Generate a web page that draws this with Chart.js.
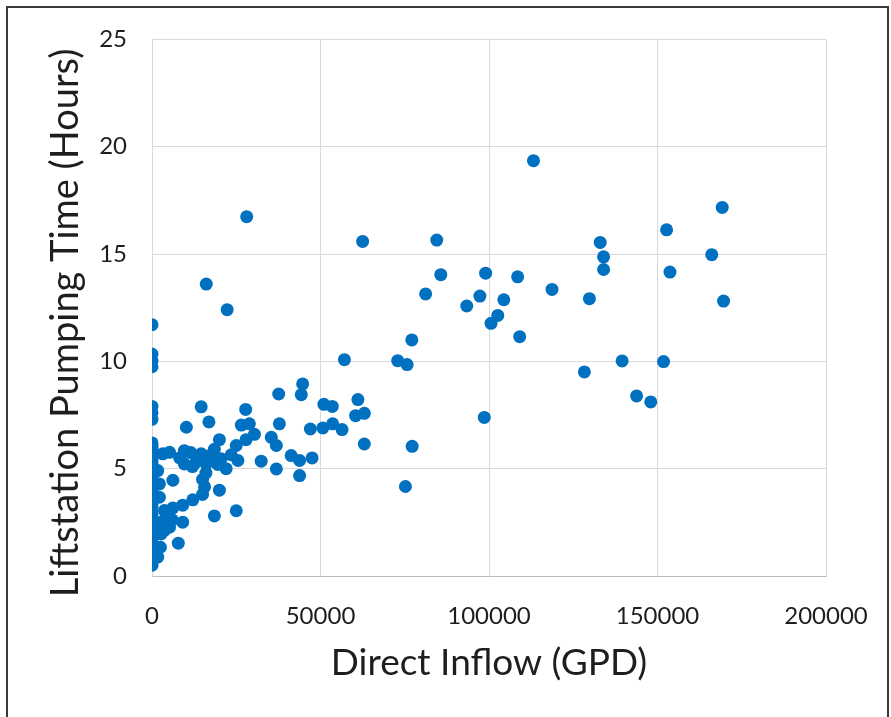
<!DOCTYPE html>
<html>
<head>
<meta charset="utf-8">
<script src="https://cdn.jsdelivr.net/npm/chart.js@4.4.1/dist/chart.umd.min.js"></script>
<style>
  body { margin: 0; background: #fff; }
  canvas { display: block; }
</style>
</head>
<body>
<canvas id="scatter" width="891" height="717"></canvas>
<script>
// Direct inflow (GPD) per liftstation
const inflowGpd = [
  0, 0, 0, 0, 0, 0, 0, 0, 0, 0,
  0, 0, 0, 0, 0, 0, 0, 0, 0, 0,
  0, 0, 0, 0, 0, 0, 0, 0, 0, 0,
  0, 0, 0, 0, 0, 0, 0, 0, 0, 0,
  0, 0, 0, 0, 0, 0,
  1700, 2500, 2700, 2700, 3700, 2200, 2200, 1700, 3200, 3700,
  5200, 5200, 6000, 7800, 9100, 9100, 6200, 12100, 15000, 15600,
  20000, 18500, 25000, 6200, 15000, 16000, 5200, 9600, 14600, 17600,
  20500, 9600, 13100, 16100, 22000, 25500, 32400, 36900, 41300, 43800,
  43800, 47500, 8200, 11500, 12000, 18500, 19500, 23500, 20000, 25000,
  27900, 30400, 35400, 36900, 10200, 14600, 16900, 26500, 28900, 27800,
  37800, 37600, 44700, 44300, 51000, 53500, 61100, 60400, 63000, 47000,
  50700, 53600, 56400, 63000, 57100, 72900, 75700, 77100, 77200, 75200,
  98600, 62500, 28100, 16100, 22300, 84500, 85700, 99000, 108500, 81200,
  97300, 118700, 93400, 104400, 102600, 100600, 109100, 113200, 169200, 152700,
  133000, 134000, 134000, 166100, 153700, 129800, 169600, 139500, 151800, 128300,
  143800, 148000
];

// Liftstation pumping time (hours)
const pumpHours = [
  0.5, 0.65, 0.8, 0.95, 1.1, 1.25, 1.4, 1.55, 1.7, 1.85,
  2.0, 2.15, 2.3, 2.45, 2.6, 2.75, 2.9, 3.05, 3.2, 3.35,
  3.5, 3.65, 3.8, 3.95, 4.1, 4.25, 4.4, 4.55, 4.7, 4.85,
  5.0, 5.15, 5.3, 5.45, 5.6, 5.75, 5.9, 6.05, 6.2, 7.3,
  7.6, 7.9, 9.75, 10.03, 10.34, 11.71,
  0.88, 1.34, 1.96, 2.5, 3.05, 3.67, 4.29, 4.91, 5.69, 2.12,
  2.27, 2.66, 2.62, 1.53, 2.51, 3.3, 3.17, 3.55, 3.8, 4.15,
  4.0, 2.8, 3.04, 4.46, 4.5, 4.8, 5.76, 5.84, 5.69, 5.65,
  5.46, 5.22, 5.3, 5.22, 5.0, 5.38, 5.35, 4.99, 5.61, 5.38,
  4.68, 5.5, 5.5, 5.75, 5.1, 5.9, 5.2, 5.65, 6.35, 6.08,
  6.35, 6.6, 6.46, 6.08, 6.93, 7.88, 7.18, 7.03, 7.09, 7.76,
  7.09, 8.48, 8.95, 8.45, 8.0, 7.9, 8.22, 7.47, 7.58, 6.85,
  6.9, 7.09, 6.82, 6.15, 10.08, 10.03, 9.85, 11.0, 6.04, 4.17,
  7.39, 15.59, 16.74, 13.6, 12.41, 15.65, 14.04, 14.11, 13.94, 13.14,
  13.04, 13.35, 12.58, 12.87, 12.14, 11.77, 11.15, 19.35, 17.17, 16.13,
  15.54, 14.87, 14.28, 14.97, 14.16, 12.92, 12.81, 10.02, 9.99, 9.51,
  8.39, 8.11
];

const xTicks = [0, 50000, 100000, 150000, 200000];
const yTicks = [0, 5, 10, 15, 20, 25];
const yTitle = 'Liftstation Pumping Time (Hours)';

const points = inflowGpd.map((x, i) => ({ x: x, y: pumpHours[i] }));

const textColor = '#1e1e1e';

// white page, scan frame, and the y title (sits a bit below the plot middle)
const frame = {
  id: 'frame',
  beforeDraw(chart) {
    const c = chart.ctx;
    c.save();
    c.fillStyle = '#ffffff';
    c.fillRect(0, 0, chart.width, chart.height);
    c.restore();
  },
  afterDraw(chart) {
    const c = chart.ctx;
    c.save();
    c.strokeStyle = '#3a3a3a';
    c.lineWidth = 2;
    c.strokeRect(7, 7, 881, 730);
    c.translate(78, 323);
    c.rotate(-Math.PI / 2);
    c.font = '38px Lato';
    c.fillStyle = textColor;
    c.textAlign = 'center';
    c.textBaseline = 'alphabetic';
    c.fillText(yTitle, 0, 0);
    c.restore();
  }
};

new Chart(document.getElementById('scatter').getContext('2d'), {
  type: 'scatter',
  data: {
    datasets: [{
      data: points,
      backgroundColor: '#0070c0',
      borderWidth: 0,
      pointRadius: 6.5,
      pointHoverRadius: 6.5
    }]
  },
  options: {
    responsive: false,
    animation: false,
    layout: { padding: { left: 45, top: 38, right: 65, bottom: 32 } },
    plugins: {
      legend: { display: false },
      tooltip: { enabled: false }
    },
    scales: {
      x: {
        type: 'linear',
        min: xTicks[0],
        max: xTicks[xTicks.length - 1],
        afterBuildTicks: s => { s.ticks = xTicks.map(v => ({ value: v })); },
        afterFit: s => {
          s.height = 109;
          // layout padding already leaves room for the end labels
          s.paddingLeft = 0;
          s.paddingRight = 0;
        },
        ticks: {
          callback: v => String(v),
          font: { family: 'Lato', size: 24 },
          color: textColor,
          padding: 26,
          maxRotation: 0
        },
        grid: { color: '#d9d9d9', drawTicks: false },
        border: { color: '#bdbdbd' },
        title: {
          display: true,
          text: 'Direct Inflow (GPD)',
          font: { family: 'Lato', size: 37 },
          color: textColor,
          padding: 0
        }
      },
      y: {
        min: yTicks[0],
        max: yTicks[yTicks.length - 1],
        afterBuildTicks: s => { s.ticks = yTicks.map(v => ({ value: v })); },
        afterFit: s => { s.width = 107; },
        ticks: {
          font: { family: 'Lato', size: 24 },
          color: textColor,
          padding: 25
        },
        grid: { color: '#d9d9d9', drawTicks: false },
        border: { color: '#d9d9d9' }
      }
    }
  },
  plugins: [frame]
});
</script>
</body>
</html>
